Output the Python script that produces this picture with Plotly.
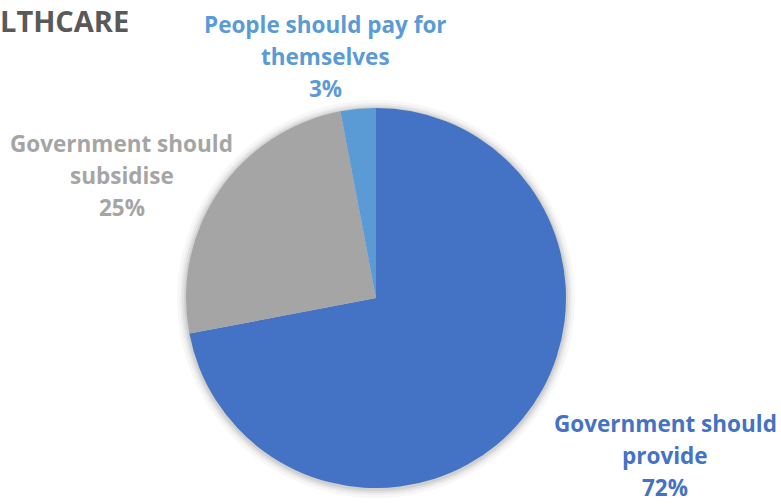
import plotly.graph_objects as go

# Survey answers on who should pay for healthcare
label_lines = [
    ["Government should", "provide"],
    ["Government should", "subsidise"],
    ["People should pay for", "themselves"],
]
values = [72, 25, 3]
colors = ["#4472C4", "#A5A5A5", "#5B9BD5"]

W, H = 781, 504
cx, cy, r = 376, 298, 190  # pie centre and radius in pixels


def px(x):
    return x / W


def py(y):
    return 1 - y / H


fig = go.Figure()
fig.add_trace(go.Pie(
    labels=[" ".join(l) for l in label_lines],
    values=values,
    sort=False,
    direction="clockwise",
    rotation=0,
    marker=dict(colors=colors, line=dict(width=0)),
    textinfo="none",
    hoverinfo="label+percent",
    showlegend=False,
    domain=dict(x=[px(cx - r), px(cx + r)], y=[py(cy + r), py(cy - r)]),
))

# soft drop shadow behind the pie
shapes = []
for spread, op in [(9, 0.03), (6, 0.04), (4, 0.05), (2, 0.07)]:
    rr = r + spread
    shapes.append(dict(
        type="circle", xref="paper", yref="paper", layer="below",
        x0=px(cx - rr), x1=px(cx + rr), y0=py(cy + rr + 1), y1=py(cy - rr + 1),
        fillcolor=f"rgba(0,0,0,{op})", line=dict(width=0),
    ))

# outside labels next to their slice, one annotation per line
label_pos = [(665, 423), (122, 143), (325, 24)]
line_gap = 32
annotations = []
for lines, val, col, (lx, ly) in zip(label_lines, values, colors, label_pos):
    for k, txt in enumerate(lines + [f"{val}%"]):
        annotations.append(dict(
            text=f"<b>{txt}</b>", x=px(lx), y=py(ly + k * line_gap),
            xref="paper", yref="paper", xanchor="center", yanchor="middle",
            showarrow=False,
            font=dict(family="Open Sans", size=22.5, color=col),
        ))

annotations.append(dict(
    text="<b>LTHCARE</b>", x=px(-2), y=py(21), xref="paper", yref="paper",
    xanchor="left", yanchor="middle", showarrow=False,
    font=dict(family="Open Sans", size=29, color="#595959"),
))

fig.update_layout(
    width=W, height=H,
    margin=dict(l=0, r=0, t=0, b=0),
    paper_bgcolor="white", plot_bgcolor="white",
    shapes=shapes, annotations=annotations,
)

fig.write_html("out.html")
